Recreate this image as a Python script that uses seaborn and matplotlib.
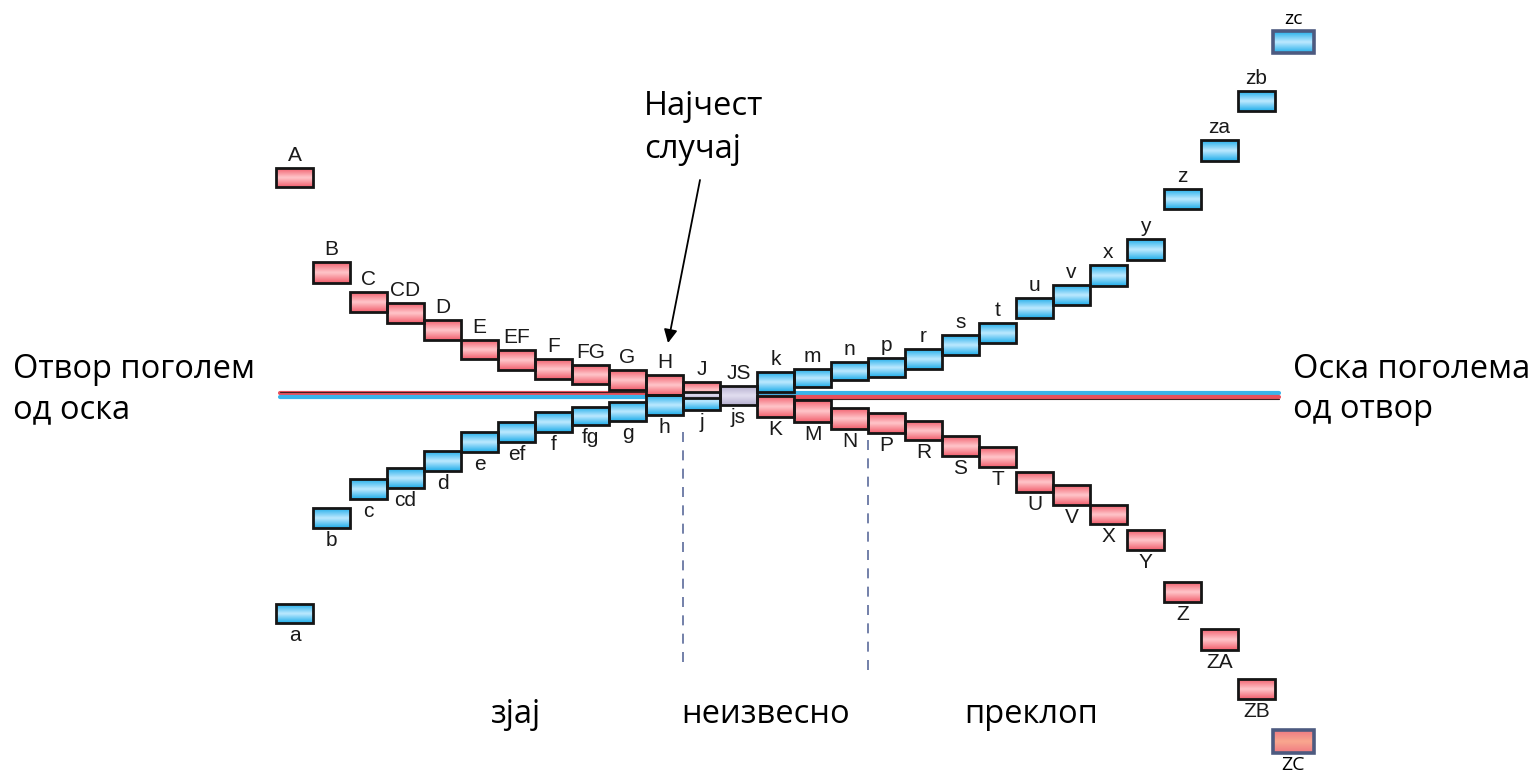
import numpy as np
import matplotlib
matplotlib.use("Agg")
import matplotlib.pyplot as plt
from matplotlib.colors import LinearSegmentedColormap
import seaborn as sns

# tolerance zones, deviation from the zero line (upper, lower)
hole_labels = ['A', 'B', 'C', 'CD', 'D', 'E', 'EF', 'F', 'FG', 'G', 'H', 'J', 'JS', 'K',
               'M', 'N', 'P', 'R', 'S', 'T', 'U', 'V', 'X', 'Y', 'Z', 'ZA', 'ZB', 'ZC']
hole_upper = [227, 133, 103, 92, 75, 55, 45, 36, 30, 25, 20, 13, 9, -1,
              -5, -13, -18, -26, -41, -52, -77, -90, -110, -135, -187, -234, -284, -335]
hole_lower = [208, 112, 83, 72, 55, 36, 25, 16, 11, 5, 0, -3, -10, -22,
              -27, -34, -38, -45, -61, -72, -97, -110, -129, -155, -207, -255, -304, -358]

shaft_labels = ['a', 'b', 'c', 'cd', 'd', 'e', 'ef', 'f', 'fg', 'g', 'h', 'j', 'js', 'k',
                'm', 'n', 'p', 'r', 's', 't', 'u', 'v', 'x', 'y', 'z', 'za', 'zb', 'zc']
shaft_upper = [-209, -113, -84, -73, -56, -37, -27, -17, -12, -7, 0, 3, 9, 23,
               26, 33, 37, 46, 60, 72, 97, 110, 130, 156, 206, 255, 304, 364]
shaft_lower = [-228, -133, -104, -93, -76, -57, -47, -37, -30, -26, -20, -15, -10, 3,
               8, 15, 18, 26, 40, 52, 77, 90, 109, 135, 186, 234, 284, 342]

W, H = 1533, 776
X0, PITCH, Y0 = 276, 37, 395   # pixel position of column 0 and of the zero line

sns.set_theme(style="white")
plt.rcParams['font.family'] = ['Liberation Sans', 'DejaVu Sans']

fig = plt.figure(figsize=(W / 100, H / 100), dpi=100)
ax = fig.add_axes([0, 0, 1, 1])
ax.axis('off')


def fpx(x, y):
    return x / W, 1 - y / H


red_cm = LinearSegmentedColormap.from_list('r', ['#f2606e', '#ffc6ca'])
blue_cm = LinearSegmentedColormap.from_list('b', ['#22aeea', '#bde9ff'])
lav_cm = LinearSegmentedColormap.from_list('l', ['#b7b0d0', '#e2def0'])
zc_red = LinearSegmentedColormap.from_list('zr', ['#f07a82', '#f9a78f'])
grad = (1 - np.abs(np.linspace(-1, 1, 40)))[:, None]


def box(i, top, bottom, cmap, edge='#151515', lw=2.0, width=1.0):
    x = i - (width - 1) / 2
    ax.imshow(grad, cmap=cmap, extent=[x, x + width, bottom, top], aspect='auto',
              interpolation='bicubic', vmin=0, vmax=1, zorder=3)
    ax.add_patch(plt.Rectangle((x, bottom), width, top - bottom, fill=False,
                               edgecolor=edge, lw=lw, zorder=4))


# zero lines (swap order at JS)
sns.lineplot(x=[0.1, 12.5], y=[2, 2], color='#e8505c', lw=3, ax=ax, zorder=1)
sns.lineplot(x=[0.1, 12.5], y=[-2, -2], color='#3ab4ea', lw=3, ax=ax, zorder=1)
sns.lineplot(x=[12.5, 27.1], y=[2, 2], color='#3ab4ea', lw=3, ax=ax, zorder=1)
sns.lineplot(x=[12.5, 27.1], y=[-2, -2], color='#e8505c', lw=3, ax=ax, zorder=1)
ax.plot([0.1, 12.5], [3.5, 3.5], color='#402020', lw=0.8, zorder=1)
ax.plot([12.5, 27.1], [-3.5, -3.5], color='#402020', lw=0.8, zorder=1)

lab_kw = dict(fontsize=15, color='#1a1a1a', ha='center')
n = len(hole_labels)
for i in range(n):
    last = i == n - 1
    if i == 12:
        box(i, hole_upper[i], hole_lower[i], lav_cm)
    else:
        box(i, hole_upper[i], hole_lower[i], zc_red if last else red_cm,
            edge='#4d5a80' if last else '#151515', lw=2.6 if last else 2.0,
            width=1.12 if last else 1.0)
        box(i, shaft_upper[i], shaft_lower[i], blue_cm,
            edge='#4d5a80' if last else '#151515', lw=2.6 if last else 2.0,
            width=1.12 if last else 1.0)
        ov_top = min(hole_upper[i], shaft_upper[i])
        ov_bot = max(hole_lower[i], shaft_lower[i])
        if ov_top > ov_bot:
            ax.imshow(grad, cmap=lav_cm, extent=[i, i + 1, ov_bot, ov_top], aspect='auto',
                      interpolation='bicubic', vmin=0, vmax=1, zorder=3.5)
    cx = i + 0.5
    kw = dict(lab_kw)
    if last:
        kw.update(family=['Open Sans', 'DejaVu Sans'], fontsize=14, color='black')
    if i <= 12:
        ax.text(cx, hole_upper[i] + 3, hole_labels[i], va='bottom', **kw)
        ax.text(cx, shaft_lower[i] - 3, shaft_labels[i], va='top', **kw)
    else:
        ax.text(cx, shaft_upper[i] + 3, shaft_labels[i], va='bottom', **kw)
        ax.text(cx, hole_lower[i] - 3, hole_labels[i], va='top', **kw)

# zone boundaries
for xb, (yt, yb) in [(11, (-37, -273)), (16, (-45, -277))]:
    ax.plot([xb, xb], [yt, yb], color='#5b6b9b', lw=1.2, ls=(0, (6, 5)), zorder=1)

ax.set_xlim(-X0 / PITCH, (W - X0) / PITCH)
ax.set_ylim(Y0 - H, Y0)

txt = dict(family=['Open Sans', 'DejaVu Sans'], fontsize=23.5, color='black', va='baseline')
fig.text(*fpx(13, 378), 'Отвор поголем', **txt)
fig.text(*fpx(13, 418), 'од оска', **txt)
fig.text(*fpx(1293, 378), 'Оска поголема', **txt)
fig.text(*fpx(1293, 418), 'од отвор', **txt)
fig.text(*fpx(644, 115), 'Најчест', **txt)
fig.text(*fpx(644, 158), 'случај', **txt)
fig.text(*fpx(491, 723), 'зјај', **txt)
fig.text(*fpx(681, 723), 'неизвесно', **txt)
fig.text(*fpx(964, 723), 'преклоп', **txt)

ax.annotate('', xy=fpx(668, 343), xytext=fpx(700, 180),
            xycoords='figure fraction', textcoords='figure fraction',
            arrowprops=dict(arrowstyle='-|>', color='black', lw=1.3,
                            mutation_scale=20, shrinkA=0, shrinkB=0))

fig.savefig('out.png', dpi=100, facecolor='white')
